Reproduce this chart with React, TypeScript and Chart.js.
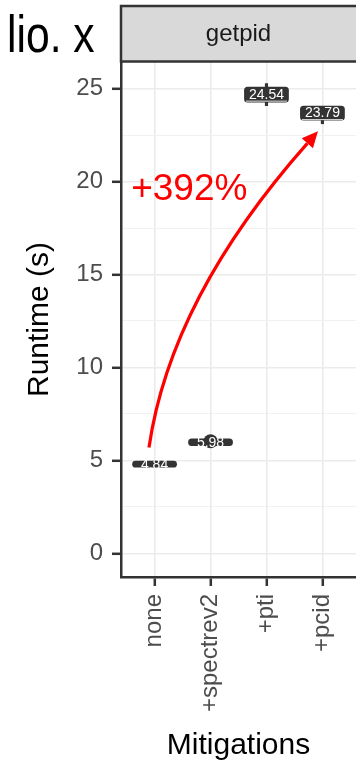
import React, { useEffect, useRef } from 'react';
import { Chart, registerables } from 'chart.js';

Chart.register(...registerables);

// ---- data ----
const categories = ['none', '+spectrev2', '+pti', '+pcid'];
const medians = [4.84, 5.98, 24.54, 23.79];
const boxLow = [4.62, 5.78, 24.25, 23.28];
const boxHigh = [4.98, 6.18, 25.1, 24.08];
const whiskerLow = [4.62, 5.78, 24.08, 23.11];
const whiskerHigh = [4.98, 6.18, 25.27, 24.0];
const outlierX = [1];
const outlierY = [6.03];
const yMajorTicks = [0, 5, 10, 15, 20, 25];
const yMinorTicks = [2.5, 7.5, 12.5, 17.5, 22.5];
const stripLabel = 'getpid';
const cutTitle = 'lio. x';
const annotationText = '+392%';
const arrowFrom = [-0.1, 5.7];
const arrowCtrl = [0.29, 13.76];
const arrowTo = [2.92, 22.7];
const annotationPos = [0.62, 19.55];

const FONT = '"Liberation Sans", Arial, Helvetica, sans-serif';
const DARK = '#333333';
const CANVAS_W = 363;
const CANVAS_H = 763;

const decorPlugin = {
  id: 'decor',
  afterDraw(chart: any) {
    const ctx = chart.ctx;
    const { left } = chart.chartArea;
    // strip
    ctx.save();
    ctx.fillStyle = '#D9D9D9';
    ctx.fillRect(left, 6, CANVAS_W, 55.5);
    ctx.strokeStyle = DARK;
    ctx.lineWidth = 2.5;
    ctx.strokeRect(left, 6, CANVAS_W + 10, 55.5);
    ctx.fillStyle = '#1A1A1A';
    ctx.font = `24px ${FONT}`;
    ctx.textAlign = 'center';
    ctx.textBaseline = 'middle';
    const cx = (chart.chartArea.left + chart.chartArea.right) / 2;
    ctx.fillText(stripLabel, cx, 34);
    // cut-off title at top-left
    ctx.fillStyle = '#000000';
    ctx.font = `52px ${FONT}`;
    ctx.textAlign = 'left';
    ctx.textBaseline = 'alphabetic';
    ctx.translate(7, 52);
    ctx.scale(0.82, 1);
    ctx.fillText(cutTitle, 0, 0);
    ctx.restore();
  },
  afterDatasetsDraw(chart: any) {
    const ctx = chart.ctx;
    const xs = chart.scales.x;
    const ys = chart.scales.y;
    ctx.save();
    // labels
    ctx.font = `14px ${FONT}`;
    ctx.textAlign = 'center';
    ctx.textBaseline = 'middle';
    medians.forEach((m, i) => {
      const px = xs.getPixelForValue(i);
      const yTop = ys.getPixelForValue(boxHigh[i]);
      const yBot = ys.getPixelForValue(boxLow[i]);
      const py = (yTop + yBot) / 2;
      const txt = m.toFixed(2);
      ctx.fillStyle = '#FFFFFF';
      ctx.fillText(txt, px, py + 0.5);
      if (yBot - yTop > 12) {
        const w = ctx.measureText(txt).width;
        ctx.strokeStyle = '#E6E6E6';
        ctx.lineWidth = 1;
        ctx.beginPath();
        ctx.moveTo(px - w / 2 - 3, py + 6.5);
        ctx.lineTo(px + w / 2 + 3, py + 6.5);
        ctx.stroke();
      }
    });
    // arrow
    const p0 = [xs.getPixelForValue(arrowFrom[0]), ys.getPixelForValue(arrowFrom[1])];
    const pc = [xs.getPixelForValue(arrowCtrl[0]), ys.getPixelForValue(arrowCtrl[1])];
    const p2 = [xs.getPixelForValue(arrowTo[0]), ys.getPixelForValue(arrowTo[1])];
    const ang = Math.atan2(p2[1] - pc[1], p2[0] - pc[0]);
    const headLen = 16;
    const headHalf = 7.5;
    const base = [p2[0] - headLen * Math.cos(ang), p2[1] - headLen * Math.sin(ang)];
    ctx.strokeStyle = '#FF0000';
    ctx.fillStyle = '#FF0000';
    ctx.lineWidth = 3.2;
    ctx.lineCap = 'butt';
    ctx.beginPath();
    ctx.moveTo(p0[0], p0[1]);
    ctx.quadraticCurveTo(pc[0], pc[1], base[0], base[1]);
    ctx.stroke();
    ctx.beginPath();
    ctx.moveTo(p2[0], p2[1]);
    ctx.lineTo(base[0] + headHalf * Math.sin(ang), base[1] - headHalf * Math.cos(ang));
    ctx.lineTo(base[0] - headHalf * Math.sin(ang), base[1] + headHalf * Math.cos(ang));
    ctx.closePath();
    ctx.fill();
    // annotation text
    ctx.font = `37px ${FONT}`;
    ctx.textAlign = 'center';
    ctx.textBaseline = 'middle';
    ctx.fillText(annotationText, xs.getPixelForValue(annotationPos[0]), ys.getPixelForValue(annotationPos[1]));
    ctx.restore();
  },
};

export default function App() {
  const ref = useRef<HTMLCanvasElement | null>(null);

  useEffect(() => {
    if (!ref.current) return;
    const chart = new Chart(ref.current, {
      type: 'bar',
      data: {
        datasets: [
          {
            type: 'scatter',
            data: outlierX.map((x, i) => ({ x, y: outlierY[i] })),
            pointRadius: 7,
            pointBackgroundColor: DARK,
            backgroundColor: DARK,
            borderWidth: 0,
            pointBorderWidth: 0,
            order: 0,
          } as any,
          {
            type: 'bar',
            data: categories.map((_, i) => ({ x: i, y: [boxLow[i], boxHigh[i]] })),
            backgroundColor: DARK,
            borderWidth: 0,
            borderRadius: 3.5,
            borderSkipped: false,
            barPercentage: 0.8,
            categoryPercentage: 1,
            grouped: false,
            order: 1,
          } as any,
          {
            type: 'bar',
            data: categories.map((_, i) => ({ x: i, y: [whiskerLow[i], whiskerHigh[i]] })),
            backgroundColor: DARK,
            borderWidth: 0,
            barThickness: 2.5,
            grouped: false,
            order: 2,
          } as any,
        ],
      },
      options: {
        responsive: false,
        animation: false,
        events: [],
        devicePixelRatio: 1,
        layout: { padding: { top: 62, left: 0, right: 0, bottom: 0 } },
        plugins: { legend: { display: false }, tooltip: { enabled: false } },
        scales: {
          x: {
            type: 'linear',
            min: -0.6,
            max: 3.6,
            offset: false,
            afterBuildTicks: (s: any) => {
              s.ticks = categories.map((_, i) => ({ value: i }));
            },
            afterFit: (s: any) => {
              s.height = 186;
            },
            grid: {
              offset: false,
              color: '#EBEBEB',
              lineWidth: 1.6,
              drawTicks: true,
              tickLength: 9,
              tickColor: DARK,
              tickWidth: 2.5,
            },
            border: { display: true, color: DARK, width: 2.5 },
            ticks: {
              autoSkip: false,
              minRotation: 90,
              maxRotation: 90,
              padding: 8,
              color: '#4D4D4D',
              font: { size: 24, family: FONT },
              callback: (v: any) => categories[Math.round(Number(v))] ?? '',
            },
            title: {
              display: true,
              text: 'Mitigations',
              color: '#000000',
              font: { size: 30, family: FONT, lineHeight: 1 },
              padding: { top: 0, bottom: 2 },
            },
          },
          y: {
            type: 'linear',
            min: -1.27,
            max: 26.43,
            afterBuildTicks: (s: any) => {
              s.ticks = [...yMajorTicks, ...yMinorTicks]
                .sort((a, b) => a - b)
                .map((v) => ({ value: v }));
            },
            afterFit: (s: any) => {
              s.width = 121;
            },
            grid: {
              color: (c: any) => (yMajorTicks.includes(c.tick?.value) ? '#EBEBEB' : '#F0F0F0'),
              lineWidth: (c: any) => (yMajorTicks.includes(c.tick?.value) ? 1.6 : 0.9),
              drawTicks: true,
              tickLength: 9,
              tickWidth: 2.5,
              tickColor: (c: any) => (yMajorTicks.includes(c.tick?.value) ? DARK : 'rgba(0,0,0,0)'),
            },
            border: { display: true, color: DARK, width: 2.5 },
            ticks: {
              autoSkip: false,
              padding: 9,
              color: '#4D4D4D',
              font: { size: 24, family: FONT },
              callback: (v: any) => (yMajorTicks.includes(Number(v)) ? String(v) : ''),
            },
            title: {
              display: true,
              text: 'Runtime (s)',
              color: '#000000',
              font: { size: 30, family: FONT, lineHeight: 1.2 },
              padding: { top: 22, bottom: 0 },
            },
          },
        },
      } as any,
      plugins: [decorPlugin],
    });
    return () => chart.destroy();
  }, []);

  return (
    <div
      style={{
        position: 'fixed',
        left: 0,
        top: 0,
        width: 356,
        height: 763,
        overflow: 'hidden',
        background: '#FFFFFF',
      }}
    >
      <canvas
        ref={ref}
        width={CANVAS_W}
        height={CANVAS_H}
        style={{ width: CANVAS_W, height: CANVAS_H, display: 'block' }}
      />
    </div>
  );
}
